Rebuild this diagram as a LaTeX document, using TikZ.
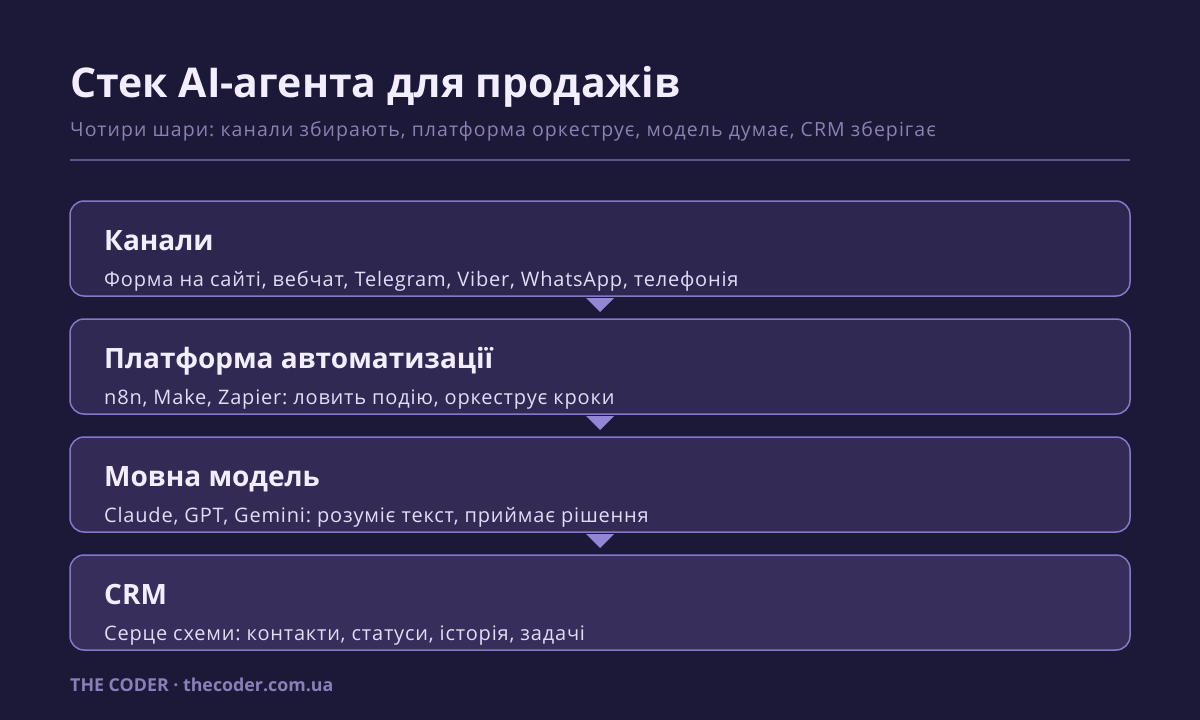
\documentclass[tikz,border=0pt]{standalone}
\usepackage{fontspec}
\setmainfont{Open Sans}
\usetikzlibrary{positioning,calc}
\frenchspacing

\definecolor{bgcol}{HTML}{1C1838}
\definecolor{fillA}{HTML}{2D2750}
\definecolor{fillB}{HTML}{302953}
\definecolor{fillC}{HTML}{332B56}
\definecolor{fillD}{HTML}{372E5B}
\definecolor{edgecol}{HTML}{8478C8}
\definecolor{arrowcol}{HTML}{9486D6}
\definecolor{headcol}{HTML}{F2EEFF}
\definecolor{desccol}{HTML}{E2DCF6}
\definecolor{subcol}{HTML}{8A82B0}
\definecolor{sepcol}{HTML}{5E5490}
\definecolor{footcol}{HTML}{8A80B8}

\tikzset{
  layer/.style={draw=edgecol, line width=1.5pt, rounded corners=14pt,
    minimum width=1060pt, minimum height=95pt, inner sep=0pt, outer sep=0pt},
  layertitle/.style={anchor=base west, inner sep=0pt, text=headcol,
    font=\bfseries\fontsize{28}{32}\selectfont},
  layertext/.style={anchor=base west, inner sep=0pt, text=desccol,
    font=\fontsize{20}{24}\selectfont\addfontfeatures{LetterSpace=4}},
  flow/.style={fill=arrowcol}
}

\begin{document}
\begin{tikzpicture}[x=1pt, y=-1pt]

% Background
\fill[bgcol] (0,0) rectangle (1200,720);

% Header
\node[anchor=base west, inner sep=0pt, text=headcol,
  font=\bfseries\fontsize{41}{46}\selectfont] (title) at (70,97) {Стек AI-агента для продажів};
\node[anchor=base west, inner sep=0pt, text=subcol,
  font=\fontsize{19.5}{23}\selectfont\addfontfeatures{LetterSpace=5.4}] (subtitle) at (70,136)
  {Чотири шари: канали збирають, платформа оркеструє, модель думає, CRM зберігає};
\draw[sepcol, line width=2pt] (70,160) -- (1130,160);

% Layers
\node[layer, fill=fillA] (kanaly) at (600,248.5) {};
\node[layer, fill=fillB, below=23pt of kanaly] (platforma) {};
\node[layer, fill=fillC, below=23pt of platforma] (model) {};
\node[layer, fill=fillD, below=23pt of model] (crm) {};

\node[layertitle] (kanalyT) at ($(kanaly.north west)+(34,49)$) {Канали};
\node[layertext] (kanalyD) at ($(kanaly.north west)+(34,85)$) {Форма на сайті, вебчат, Telegram, Viber, WhatsApp, телефонія};

\node[layertitle] (platformaT) at ($(platforma.north west)+(34,49)$) {Платформа автоматизації};
\node[layertext] (platformaD) at ($(platforma.north west)+(34,85)$) {n8n, Make, Zapier: ловить подію, оркеструє кроки};

\node[layertitle] (modelT) at ($(model.north west)+(34,49)$) {Мовна модель};
\node[layertext] (modelD) at ($(model.north west)+(34,85)$) {Claude, GPT, Gemini: розуміє текст, приймає рішення};

\node[layertitle] (crmT) at ($(crm.north west)+(34,49)$) {CRM};
\node[layertext] (crmD) at ($(crm.north west)+(34,85)$) {Серце схеми: контакти, статуси, історія, задачі};

% Flow markers
\foreach \a in {kanaly,platforma,model} {
  \fill[flow] ($(\a.south)+(-14,2)$) -- ($(\a.south)+(14,2)$) -- ($(\a.south)+(0,16)$) -- cycle;
}

% Footer
\node[anchor=base west, inner sep=0pt, text=footcol,
  font=\bfseries\fontsize{17.8}{20}\selectfont] (footer) at (70,691) {THE CODER · thecoder.com.ua};

\end{tikzpicture}
\end{document}
